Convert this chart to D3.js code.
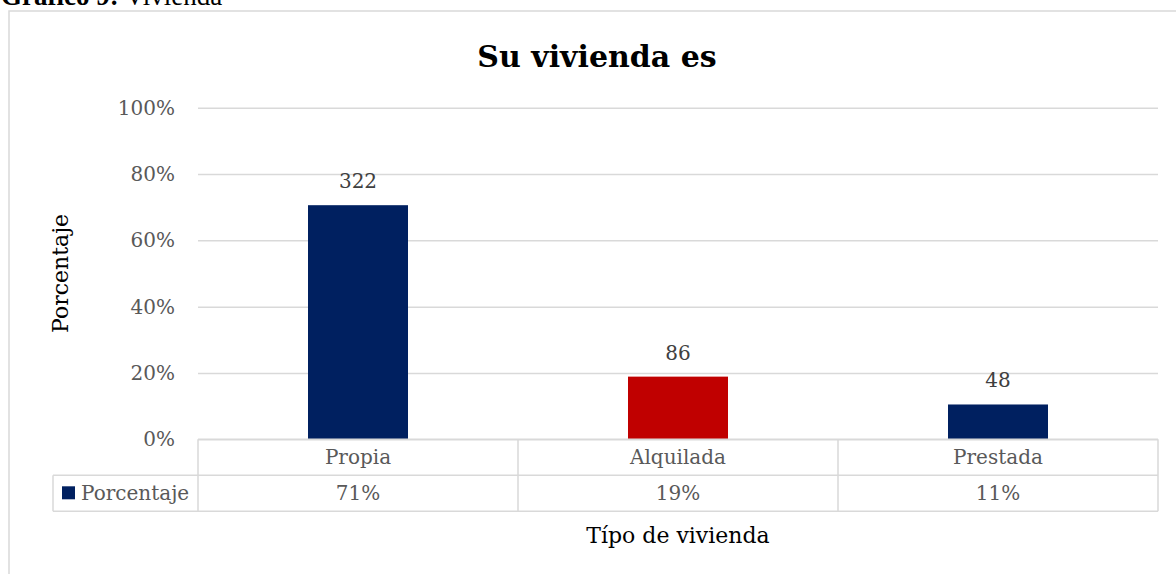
<!DOCTYPE html>
<html>
<head>
<meta charset="utf-8">
<script src="https://cdn.jsdelivr.net/npm/d3@7"></script>
<style>
  body { margin: 0; background: #fff; }
  svg { display: block; }
</style>
</head>
<body>
<div id="chart"></div>
<script>
// data
let categories = ["Propia", "Alquilada", "Prestada"];
let counts = [322, 86, 48];
let shares = [0.706, 0.189, 0.105];
let shareLabels = ["71%", "19%", "11%"];
let barColors = ["#002060", "#C00000", "#002060"];
let yTicks = [0, 0.2, 0.4, 0.6, 0.8, 1];

let svgWidth = 1176;
let svgHeight = 574;

// plot area
let plot = { left: 198, right: 1158, top: 107.7, bottom: 439.3 };
let rowH = 36;
let tableLeft = 53;

let serif = "'DejaVu Serif', serif";
let grid = "#d9d9d9";

let svg = d3.select("#chart")
    .append("svg")
    .attr("width", svgWidth)
    .attr("height", svgHeight);

// caption above the chart frame (cut by the top edge, as in the original)
let cap = svg.append("text")
    .attr("x", 1)
    .attr("y", 5)
    .style("font-family", "'Liberation Serif', serif")
    .style("font-size", "27px")
    .attr("fill", "#000");
cap.append("tspan").attr("font-weight", "bold").text("Gráfico 9:");
cap.append("tspan").text(" Vivienda");

// chart frame
svg.append("rect")
    .attr("x", 9)
    .attr("y", 11)
    .attr("width", 1200)
    .attr("height", 600)
    .attr("fill", "none")
    .attr("stroke", grid)
    .attr("stroke-width", 1.5);

// scales
let x = d3.scaleBand()
    .domain(categories)
    .range([plot.left, plot.right])
    .paddingInner(0.6875)
    .paddingOuter(0.34375);

let y = d3.scaleLinear()
    .domain([0, 1])
    .range([plot.bottom, plot.top]);

// y axis with gridlines
let yAxis = svg.append("g")
    .attr("transform", `translate(${plot.left}, 0)`)
    .call(d3.axisLeft(y)
        .tickValues(yTicks)
        .tickFormat(d3.format(".0%"))
        .tickSize(-(plot.right - plot.left))
        .tickPadding(23));

yAxis.select(".domain").remove();
yAxis.selectAll(".tick line")
    .attr("stroke", grid)
    .attr("stroke-width", 1.5);
yAxis.selectAll(".tick text")
    .attr("fill", "#595959")
    .style("font-family", serif)
    .style("font-size", "20px");

// bars
svg.selectAll("rect.bar")
    .data(categories)
    .enter()
    .append("rect")
    .attr("class", "bar")
    .attr("x", d => x(d))
    .attr("y", (d, i) => y(shares[i]))
    .attr("width", x.bandwidth())
    .attr("height", (d, i) => y(0) - y(shares[i]))
    .attr("fill", (d, i) => barColors[i]);

// count labels over bars
svg.selectAll("text.count")
    .data(categories)
    .enter()
    .append("text")
    .attr("class", "count")
    .attr("x", d => x(d) + x.bandwidth() / 2)
    .attr("y", (d, i) => y(shares[i]) - 17)
    .attr("text-anchor", "middle")
    .attr("fill", "#404040")
    .style("font-family", serif)
    .style("font-size", "20px")
    .text((d, i) => counts[i]);

// data table under the plot
let colLeft = d => x(d) - (x.step() - x.bandwidth()) / 2;
let row1 = plot.bottom;
let row2 = plot.bottom + rowH;
let row3 = plot.bottom + rowH * 2;

let table = svg.append("g")
    .attr("stroke", grid)
    .attr("stroke-width", 1.5);

table.append("line").attr("x1", plot.left).attr("x2", plot.right).attr("y1", row1).attr("y2", row1);
table.append("line").attr("x1", tableLeft).attr("x2", plot.right).attr("y1", row2).attr("y2", row2);
table.append("line").attr("x1", tableLeft).attr("x2", plot.right).attr("y1", row3).attr("y2", row3);
table.append("line").attr("x1", tableLeft).attr("x2", tableLeft).attr("y1", row2).attr("y2", row3);

table.selectAll("line.col")
    .data(categories)
    .enter()
    .append("line")
    .attr("class", "col")
    .attr("x1", d => colLeft(d))
    .attr("x2", d => colLeft(d))
    .attr("y1", row1)
    .attr("y2", row3);

table.append("line").attr("x1", plot.right).attr("x2", plot.right).attr("y1", row1).attr("y2", row3);

svg.selectAll("text.cat")
    .data(categories)
    .enter()
    .append("text")
    .attr("class", "cat")
    .attr("x", d => x(d) + x.bandwidth() / 2)
    .attr("y", row1 + rowH / 2)
    .attr("dy", "0.35em")
    .attr("text-anchor", "middle")
    .attr("fill", "#595959")
    .style("font-family", serif)
    .style("font-size", "20px")
    .text(d => d);

svg.selectAll("text.share")
    .data(categories)
    .enter()
    .append("text")
    .attr("class", "share")
    .attr("x", d => x(d) + x.bandwidth() / 2)
    .attr("y", row2 + rowH / 2)
    .attr("dy", "0.35em")
    .attr("text-anchor", "middle")
    .attr("fill", "#595959")
    .style("font-family", serif)
    .style("font-size", "20px")
    .text((d, i) => shareLabels[i]);

// legend key inside the table
svg.append("rect")
    .attr("x", 62)
    .attr("y", row2 + 11)
    .attr("width", 13)
    .attr("height", 13)
    .attr("fill", barColors[0]);

svg.append("text")
    .attr("x", 81)
    .attr("y", row2 + rowH / 2)
    .attr("dy", "0.35em")
    .attr("fill", "#595959")
    .style("font-family", serif)
    .style("font-size", "20px")
    .text("Porcentaje");

// titles
svg.append("text")
    .attr("x", 597)
    .attr("y", 67)
    .attr("text-anchor", "middle")
    .attr("font-weight", "bold")
    .attr("fill", "#000")
    .style("font-family", serif)
    .style("font-size", "30px")
    .text("Su vivienda es");

svg.append("text")
    .attr("transform", `translate(68, ${(plot.top + plot.bottom) / 2}) rotate(-90)`)
    .attr("text-anchor", "middle")
    .attr("fill", "#000")
    .style("font-family", serif)
    .style("font-size", "22px")
    .text("Porcentaje");

svg.append("text")
    .attr("x", (plot.left + plot.right) / 2)
    .attr("y", 543)
    .attr("text-anchor", "middle")
    .attr("fill", "#000")
    .style("font-family", serif)
    .style("font-size", "22px")
    .text("Típo de vivienda");
</script>
</body>
</html>
